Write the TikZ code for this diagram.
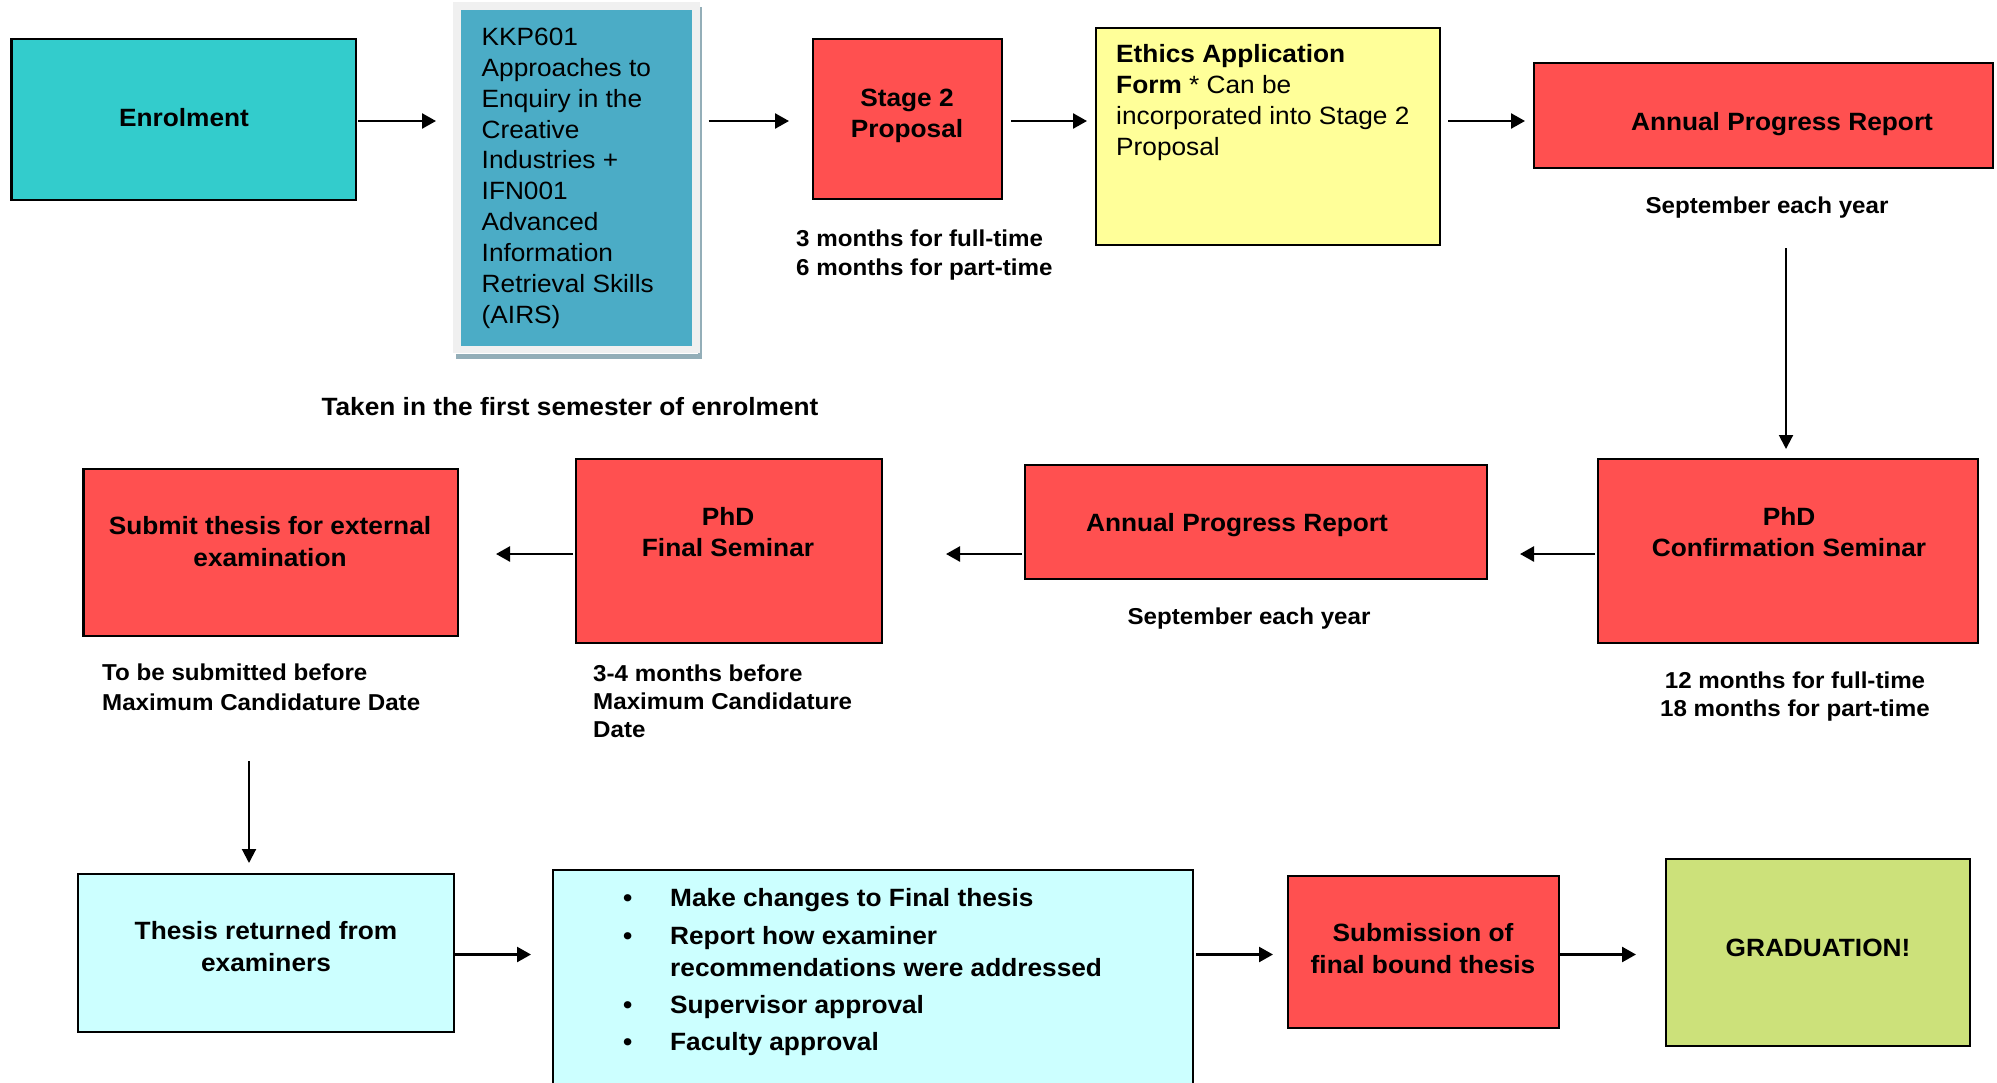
\documentclass[tikz,border=0pt]{standalone}
\usepackage{fontspec}
\setmainfont{Liberation Sans}[FakeStretch=1.05]
\usetikzlibrary{arrows.meta}
\definecolor{cteal}{HTML}{33CCCC}
\definecolor{ckkp}{HTML}{4BACC6}
\definecolor{ckkpframe}{HTML}{F0F0F0}
\definecolor{ckkpshadow}{HTML}{93AEB8}
\definecolor{cred}{HTML}{FF5050}
\definecolor{cyellow}{HTML}{FFFF99}
\definecolor{ccyan}{HTML}{CCFFFF}
\definecolor{cgreen}{HTML}{CCE17A}
\tikzset{
  box/.style={draw=black, line width=2.5pt, inner sep=0pt, outer sep=0pt},
  mt/.style={font=\fontsize{25}{31}\selectfont\bfseries, inner sep=0pt, align=center},
  rt/.style={font=\fontsize{25}{30.83}\selectfont, inner sep=0pt, align=left},
  lt/.style={font=\fontsize{23}{28.5}\selectfont\bfseries, inner sep=0pt},
  arr/.style={line width=2.5pt, -{Triangle[length=14pt,width=15pt]}},
  varr/.style={line width=2pt, -{Triangle[length=14pt,width=14pt]}}
}
\begin{document}
\begin{tikzpicture}[x=1pt,y=-1pt]
\useasboundingbox (0,0) rectangle (1997,1082);
\clip (0,0) rectangle (1997,1082);
\fill[white] (0,0) rectangle (1997,1082);

% ---- row 1 boxes
\node[box, fill=cteal, minimum width=344.5pt, minimum height=161pt] (enrol) at (183.75,119.5) {};
\fill[ckkpshadow] (456,354) rectangle (702,359);
\fill[ckkpshadow] (697.5,7) rectangle (702,359);
\node[fill=ckkpframe, inner sep=0pt, outer sep=0pt, minimum width=247pt, minimum height=351pt] (kkpf) at (576.5,177.5) {};
\node[fill=ckkp, inner sep=0pt, outer sep=0pt, minimum width=231pt, minimum height=336pt] (kkp) at (576.5,178) {};
\node[box, fill=cred, minimum width=189pt, minimum height=160pt] (stage2) at (907.5,119) {};
\node[box, fill=cyellow, minimum width=344pt, minimum height=217pt] (ethics) at (1268,136.5) {};
\node[box, fill=cred, minimum width=459pt, minimum height=105pt] (apr1) at (1763.5,115.5) {};

% ---- row 2 boxes
\node[box, fill=cred, minimum width=380pt, minimum height=184pt] (conf) at (1788,551) {};
\node[box, fill=cred, minimum width=462pt, minimum height=114pt] (apr2) at (1256,522) {};
\node[box, fill=cred, minimum width=306pt, minimum height=184pt] (final) at (729,551) {};
\node[box, fill=cred, minimum width=374.5pt, minimum height=167pt] (submit) at (270.75,552.5) {};

% ---- row 3 boxes
\node[box, fill=ccyan, minimum width=376pt, minimum height=158pt] (returned) at (266,953) {};
\node[box, line width=2pt, fill=ccyan, minimum width=640pt, minimum height=230pt] (bullets) at (873,985) {};
\node[box, fill=cred, minimum width=271pt, minimum height=152pt] (subm) at (1423.5,952) {};
\node[box, fill=cgreen, minimum width=304pt, minimum height=187pt] (grad) at (1818,952.5) {};

% ---- texts row 1 (multi-line nodes anchored at the baseline of their last line)
\node[mt, anchor=base] (tenrol) at (184,126) {Enrolment};
\node[rt, anchor=base west] (tkkp) at (481.5,323) {KKP601\\Approaches to\\Enquiry in the\\Creative\\Industries +\\IFN001\\Advanced\\Information\\Retrieval Skills\\(AIRS)};
\node[mt, anchor=base] (tstage2) at (907,137) {Stage 2\\Proposal};
\node[lt, anchor=base west, align=left] (lstage2) at (796,275) {3 months for full-time\\6 months for part-time};
\node[mt, anchor=base] (ltaken) at (570,415) {Taken in the first semester of enrolment};
\node[rt, anchor=base west] (tethics) at (1116,155) {\textbf{Ethics Application}\\\textbf{Form} * Can be\\incorporated into Stage 2\\Proposal};
\node[mt, anchor=base] (tapr1) at (1782,130) {Annual Progress Report};
\node[lt, anchor=base] (lapr1) at (1767,213) {September each year};

% ---- texts row 2
\node[mt, anchor=base] (tconf) at (1789,556.7) {PhD\\Confirmation Seminar};
\node[lt, anchor=base, align=center] (lconf) at (1795,716.7) {12 months for full-time\\18 months for part-time};
\node[mt, anchor=base] (tapr2) at (1237,531.7) {Annual Progress Report};
\node[lt, anchor=base] (lapr2) at (1249,624) {September each year};
\node[mt, anchor=base] (tfinal) at (728,556.7) {PhD\\Final Seminar};
\node[lt, anchor=base west, align=left, font=\fontsize{23}{27.8}\selectfont\bfseries] (lfinal) at (593,737) {3-4 months before\\Maximum Candidature\\Date};
\node[mt, anchor=base, font=\fontsize{25}{32.4}\selectfont\bfseries] (tsubmit) at (270,566.7) {Submit thesis for external\\examination};
\node[lt, anchor=base west, align=left, font=\fontsize{23}{29.3}\selectfont\bfseries] (lsubmit) at (102,710) {To be submitted before\\Maximum Candidature Date};

% ---- texts row 3
\node[mt, anchor=base, font=\fontsize{25}{31.7}\selectfont\bfseries] (treturned) at (266,971) {Thesis returned from\\examiners};
\node[mt, anchor=base west, align=left] (b1) at (623,906.7) {\makebox[47pt][l]{•}Make changes to Final thesis};
\node[mt, anchor=base west, align=left, font=\fontsize{25}{32}\selectfont\bfseries] (b2) at (623,976.5) {\makebox[47pt][l]{•}Report how examiner\\\hspace*{47pt}recommendations were addressed};
\node[mt, anchor=base west, align=left] (b3) at (623,1013.3) {\makebox[47pt][l]{•}Supervisor approval};
\node[mt, anchor=base west, align=left] (b4) at (623,1050.5) {\makebox[47pt][l]{•}Faculty approval};
\node[mt, anchor=base, font=\fontsize{25}{32}\selectfont\bfseries] (tsubm) at (1423,973.3) {Submission of\\final bound thesis};
\node[mt, anchor=base] (tgrad) at (1818,956) {GRADUATION!};

% ---- connectors
\coordinate (ya) at (0,121);
\coordinate (yb) at (0,554);
\coordinate (yc) at (0,954.5);
\coordinate (xa) at (1786,0);
\coordinate (xb) at (249,0);
\draw[arr, shorten <=2pt, shorten >=17pt] (enrol.east |- ya) -- (kkpf.west |- ya);
\draw[arr, shorten <=8.5pt, shorten >=24pt] (kkpf.east |- ya) -- (stage2.west |- ya);
\draw[arr, shorten <=9pt, shorten >=9pt] (stage2.east |- ya) -- (ethics.west |- ya);
\draw[arr, shorten <=8pt, shorten >=9pt] (ethics.east |- ya) -- (apr1.west |- ya);
\draw[varr, shorten <=80pt, shorten >=10pt] (apr1.south -| xa) -- (conf.north -| xa);
\draw[arr, shorten <=3pt, shorten >=33pt] (conf.west |- yb) -- (apr2.east |- yb);
\draw[arr, shorten <=3pt, shorten >=64pt] (apr2.west |- yb) -- (final.east |- yb);
\draw[arr, shorten <=3pt, shorten >=38pt] (final.west |- yb) -- (submit.east |- yb);
\draw[varr, shorten <=125pt, shorten >=11pt] (submit.south -| xb) -- (returned.north -| xb);
\draw[arr, shorten >=22pt] (returned.east |- yc) -- (bullets.west |- yc);
\draw[arr, shorten <=3pt, shorten >=15pt] (bullets.east |- yc) -- (subm.west |- yc);
\draw[arr, shorten >=30pt] (subm.east |- yc) -- (grad.west |- yc);
\end{tikzpicture}
\end{document}
